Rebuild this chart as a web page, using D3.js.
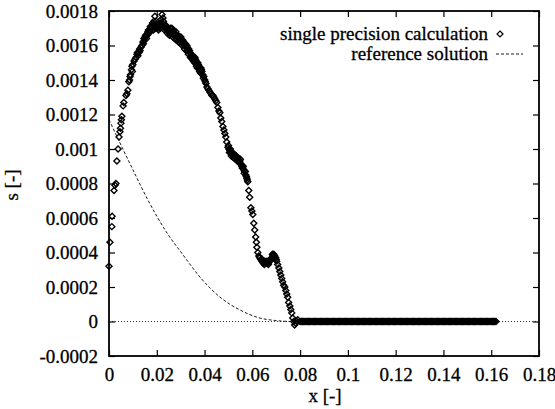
<!DOCTYPE html>
<html>
<head>
<meta charset="utf-8">
<script src="https://cdn.jsdelivr.net/npm/d3@7"></script>
<style>
    body { margin: 0; background: #fff; }
    svg { display: block; }
    text { font-family: "Liberation Serif", "Times New Roman", serif; fill: #000; stroke: #000; stroke-width: 0.3px; }
</style>
</head>
<body>
<div id="chart"></div>
<script>
// x ticks / y ticks
const xTicks = [0, 0.02, 0.04, 0.06, 0.08, 0.1, 0.12, 0.14, 0.16, 0.18];
const xTickLabels = ["0", "0.02", "0.04", "0.06", "0.08", "0.1", "0.12", "0.14", "0.16", "0.18"];
const yTicks = [-0.0002, 0, 0.0002, 0.0004, 0.0006, 0.0008, 0.001, 0.0012, 0.0014, 0.0016, 0.0018];
const yTickLabels = ["-0.0002", "0", "0.0002", "0.0004", "0.0006", "0.0008", "0.001", "0.0012", "0.0014", "0.0016", "0.0018"];

// single precision calculation (hump part)
const calcX = [
    0.0000, 0.0004, 0.0012, 0.0013, 0.0021, 0.0025, 0.0029, 0.0033, 0.0038, 0.0042,
    0.0046, 0.0048, 0.0050, 0.0052, 0.0054, 0.0059, 0.0062, 0.0071, 0.0075, 0.0079,
    0.0086, 0.0088, 0.0094, 0.0096, 0.0100, 0.0109, 0.0113, 0.0117, 0.0121, 0.0126,
    0.0130, 0.0134, 0.0138, 0.0142, 0.0146, 0.0151, 0.0155, 0.0159, 0.0163, 0.0167,
    0.0171, 0.0176, 0.0180, 0.0184, 0.0186, 0.0188, 0.0192, 0.0196, 0.0200, 0.0205,
    0.0209, 0.0213, 0.0217, 0.0222, 0.0226, 0.0230, 0.0234, 0.0238, 0.0243, 0.0247,
    0.0251, 0.0255, 0.0259, 0.0263, 0.0268, 0.0272, 0.0276, 0.0280, 0.0284, 0.0289,
    0.0293, 0.0297, 0.0301, 0.0305, 0.0309, 0.0314, 0.0318, 0.0322, 0.0326, 0.0330,
    0.0334, 0.0339, 0.0343, 0.0347, 0.0351, 0.0356, 0.0360, 0.0364, 0.0368, 0.0372,
    0.0376, 0.0381, 0.0385, 0.0389, 0.0393, 0.0397, 0.0401, 0.0406, 0.0410, 0.0414,
    0.0418, 0.0422, 0.0427, 0.0431, 0.0435, 0.0439, 0.0443, 0.0447, 0.0451, 0.0456,
    0.0460, 0.0464, 0.0468, 0.0472, 0.0477, 0.0481, 0.0485, 0.0489, 0.0493, 0.0498,
    0.0502, 0.0506, 0.0510, 0.0514, 0.0518, 0.0523, 0.0527, 0.0531, 0.0535, 0.0539,
    0.0543, 0.0548, 0.0552, 0.0556, 0.0560, 0.0564, 0.0568, 0.0573, 0.0577, 0.0581,
    0.0585, 0.0589, 0.0594, 0.0598, 0.0602, 0.0606, 0.0610, 0.0614, 0.0617, 0.0619,
    0.0623, 0.0627, 0.0631, 0.0635, 0.0640, 0.0644, 0.0648, 0.0652, 0.0656, 0.0660,
    0.0665, 0.0669, 0.0673, 0.0677, 0.0681, 0.0686, 0.0690, 0.0694, 0.0698, 0.0702,
    0.0706, 0.0711, 0.0715, 0.0719, 0.0723, 0.0727, 0.0731, 0.0736, 0.0740, 0.0744,
    0.0748, 0.0752, 0.0757, 0.0761, 0.0765, 0.0769, 0.0773, 0.0777, 0.0782, 0.0786,
    0.0790
];
const calcS = [
    0.00032, 0.00046, 0.00055, 0.00061, 0.00076, 0.00079, 0.00080, 0.00093, 0.00100, 0.00107,
    0.00110, 0.00112, 0.00115, 0.00117, 0.00119, 0.00125, 0.00127, 0.00131, 0.00132, 0.00134,
    0.00140, 0.00142, 0.00146, 0.00148, 0.00149, 0.00152, 0.00153, 0.00155, 0.00154, 0.00156,
    0.00157, 0.00159, 0.00160, 0.00162, 0.00164, 0.00165, 0.00165, 0.00166, 0.00168, 0.00167,
    0.00169, 0.00170, 0.00171, 0.00172, 0.00169, 0.00174, 0.00177, 0.00172, 0.00171, 0.00170,
    0.00172, 0.00173, 0.00175, 0.00178, 0.00176, 0.00172, 0.00170, 0.00171, 0.00169, 0.00170,
    0.00168, 0.00169, 0.00167, 0.00170, 0.00168, 0.00166, 0.00167, 0.00168, 0.00165, 0.00166,
    0.00164, 0.00163, 0.00165, 0.00162, 0.00163, 0.00161, 0.00160, 0.00159, 0.00160, 0.00157,
    0.00158, 0.00156, 0.00154, 0.00153, 0.00154, 0.00152, 0.00153, 0.00151, 0.00149, 0.00150,
    0.00148, 0.00146, 0.00147, 0.00145, 0.00143, 0.00142, 0.00140, 0.00138, 0.00136, 0.00135,
    0.00134, 0.00133, 0.00132, 0.00131, 0.00131, 0.00130, 0.00129, 0.00128, 0.00127, 0.00124,
    0.00122, 0.00121, 0.00118, 0.00116, 0.00113, 0.00111, 0.00109, 0.00107, 0.00104, 0.00101,
    0.00100, 0.00099, 0.00098, 0.00097, 0.00097, 0.00096, 0.00096, 0.00095, 0.00095, 0.00094,
    0.00093, 0.00093, 0.00091, 0.00090, 0.00089, 0.00088, 0.00087, 0.00085, 0.00083, 0.00081,
    0.00076, 0.00072, 0.00066, 0.00064, 0.00062, 0.00057, 0.00053, 0.00049, 0.00046, 0.00043,
    0.00040, 0.00038, 0.00037, 0.00036, 0.00035, 0.00034, 0.00034, 0.00035, 0.00034, 0.00034,
    0.00035, 0.00034, 0.00035, 0.00036, 0.00037, 0.00038, 0.00039, 0.00038, 0.00037, 0.00035,
    0.00033, 0.00031, 0.00029, 0.00027, 0.00025, 0.00023, 0.00021, 0.00020, 0.00018, 0.00016,
    0.00014, 0.00011, 0.00009, 0.00007, 0.00005, 0.00002, 0.00000, -0.00002, -0.00001, 0.00000,
    0.00001
];

// extra points where the calculation scatters into a dense band
const bandX = [
    0.0083, 0.0090, 0.0098, 0.0105, 0.0119, 0.0128,
    0.0144, 0.0148, 0.0153, 0.0157, 0.0161, 0.0165, 0.0169, 0.0173, 0.0178, 0.0182,
    0.0190, 0.0194, 0.0198, 0.0203, 0.0207, 0.0211, 0.0215, 0.0219, 0.0224, 0.0228,
    0.0232, 0.0236, 0.0240, 0.0245, 0.0249, 0.0253, 0.0257, 0.0261, 0.0266, 0.0270,
    0.0274, 0.0278, 0.0282, 0.0287, 0.0291, 0.0295, 0.0299, 0.0303, 0.0307, 0.0312,
    0.0316, 0.0320, 0.0324, 0.0328, 0.0332, 0.0337, 0.0341, 0.0345, 0.0349, 0.0353,
    0.0358, 0.0362, 0.0366, 0.0370, 0.0374, 0.0379, 0.0383, 0.0387, 0.0395, 0.0403,
    0.0500, 0.0504, 0.0508, 0.0512, 0.0516, 0.0520, 0.0525, 0.0529, 0.0533, 0.0537,
    0.0541, 0.0545, 0.0550, 0.0554, 0.0558, 0.0562, 0.0566, 0.0571, 0.0575, 0.0579,
    0.0642, 0.0650, 0.0658, 0.0667, 0.0675, 0.0684, 0.0692, 0.0700
];
const bandS = [
    0.00139, 0.00143, 0.00145, 0.00151, 0.00156, 0.00158,
    0.00161, 0.00163, 0.00166, 0.00164, 0.00167, 0.00169, 0.00168, 0.00171, 0.00169, 0.00173,
    0.00171, 0.00170, 0.00174, 0.00172, 0.00169, 0.00171, 0.00170, 0.00173, 0.00171, 0.00174,
    0.00169, 0.00172, 0.00170, 0.00167, 0.00168, 0.00166, 0.00170, 0.00168, 0.00165, 0.00169,
    0.00164, 0.00166, 0.00163, 0.00165, 0.00162, 0.00165, 0.00161, 0.00163, 0.00160, 0.00162,
    0.00158, 0.00161, 0.00157, 0.00159, 0.00155, 0.00157, 0.00153, 0.00155, 0.00152, 0.00151,
    0.00150, 0.00152, 0.00148, 0.00147, 0.00149, 0.00145, 0.00144, 0.00146, 0.00141, 0.00139,
    0.00102, 0.00098, 0.00100, 0.00096, 0.00098, 0.00095, 0.00097, 0.00094, 0.00096, 0.00093,
    0.00095, 0.00092, 0.00094, 0.00091, 0.00089, 0.00090, 0.00086, 0.00087, 0.00084, 0.00082,
    0.00036, 0.00033, 0.00035, 0.00033, 0.00036, 0.00039, 0.00037, 0.00036
];

// single precision calculation, flat tail (s = 0)
const tailX = [
    0.0800, 0.0805, 0.0810, 0.0815, 0.0820, 0.0825, 0.0830, 0.0835, 0.0840, 0.0845,
    0.0850, 0.0855, 0.0860, 0.0865, 0.0870, 0.0875, 0.0880, 0.0885, 0.0890, 0.0895,
    0.0900, 0.0905, 0.0910, 0.0915, 0.0920, 0.0925, 0.0930, 0.0935, 0.0940, 0.0945,
    0.0950, 0.0955, 0.0960, 0.0965, 0.0970, 0.0975, 0.0980, 0.0985, 0.0990, 0.0995,
    0.1000, 0.1005, 0.1010, 0.1015, 0.1020, 0.1025, 0.1030, 0.1035, 0.1040, 0.1045,
    0.1050, 0.1055, 0.1060, 0.1065, 0.1070, 0.1075, 0.1080, 0.1085, 0.1090, 0.1095,
    0.1100, 0.1105, 0.1110, 0.1115, 0.1120, 0.1125, 0.1130, 0.1135, 0.1140, 0.1145,
    0.1150, 0.1155, 0.1160, 0.1165, 0.1170, 0.1175, 0.1180, 0.1185, 0.1190, 0.1195,
    0.1200, 0.1205, 0.1210, 0.1215, 0.1220, 0.1225, 0.1230, 0.1235, 0.1240, 0.1245,
    0.1250, 0.1255, 0.1260, 0.1265, 0.1270, 0.1275, 0.1280, 0.1285, 0.1290, 0.1295,
    0.1300, 0.1305, 0.1310, 0.1315, 0.1320, 0.1325, 0.1330, 0.1335, 0.1340, 0.1345,
    0.1350, 0.1355, 0.1360, 0.1365, 0.1370, 0.1375, 0.1380, 0.1385, 0.1390, 0.1395,
    0.1400, 0.1405, 0.1410, 0.1415, 0.1420, 0.1425, 0.1430, 0.1435, 0.1440, 0.1445,
    0.1450, 0.1455, 0.1460, 0.1465, 0.1470, 0.1475, 0.1480, 0.1485, 0.1490, 0.1495,
    0.1500, 0.1505, 0.1510, 0.1515, 0.1520, 0.1525, 0.1530, 0.1535, 0.1540, 0.1545,
    0.1550, 0.1555, 0.1560, 0.1565, 0.1570, 0.1575, 0.1580, 0.1585, 0.1590, 0.1595,
    0.1600, 0.1605, 0.1610, 0.1615, 0.1620
];

// reference solution
const refX = [0, 0.0046, 0.0100, 0.0163, 0.0243, 0.0310, 0.0377, 0.0464, 0.0548, 0.0632, 0.0694, 0.0757];
const refS = [0.00117, 0.001035, 0.00088, 0.000704, 0.000513, 0.000386, 0.000264, 0.000142, 0.000067, 0.00002, 0.000006, 0];

const legendLabels = ["single precision calculation", "reference solution"];

const width = 555, height = 409;
const margin = { top: 11, right: 16, bottom: 53, left: 109 };
const innerW = width - margin.left - margin.right;
const innerH = height - margin.top - margin.bottom;
const fontSize = '19px';

const points = calcX.map((x, i) => ({ x: x, s: calcS[i] }))
    .concat(bandX.map((x, i) => ({ x: x, s: bandS[i] })))
    .concat(tailX.map(x => ({ x: x, s: 0 })));
const refData = refX.map((x, i) => ({ x: x, s: refS[i] }));

const xScale = d3.scaleLinear().domain([0, 0.18]).range([0, innerW]);
const yScale = d3.scaleLinear().domain([-0.0002, 0.0018]).range([innerH, 0]);

const svg = d3.select('#chart').append('svg')
    .attr('width', width)
    .attr('height', height);

const g = svg.append('g')
    .attr('transform', `translate(${margin.left},${margin.top})`);

// zero axis (dotted)
g.append('line')
    .attr('x1', 0).attr('x2', innerW)
    .attr('y1', yScale(0)).attr('y2', yScale(0))
    .attr('stroke', '#000')
    .attr('stroke-width', 0.8)
    .attr('stroke-dasharray', '1,2');

// reference solution
const line = d3.line()
    .x(d => xScale(d.x))
    .y(d => yScale(d.s))
    .curve(d3.curveMonotoneX);

g.append('path')
    .datum(refData)
    .attr('d', line)
    .attr('fill', 'none')
    .attr('stroke', '#000')
    .attr('stroke-width', 0.9)
    .attr('stroke-dasharray', '3,2');

// diamonds
const diamond = 'M0,-3L3,0L0,3L-3,0Z';
g.append('g').selectAll('path')
    .data(points)
    .join('path')
    .attr('d', diamond)
    .attr('transform', d => `translate(${xScale(d.x)},${yScale(d.s)})`)
    .attr('fill', 'none')
    .attr('stroke', '#000')
    .attr('stroke-width', 1.4);

// axes, ticks inward on all four sides
const fmtX = d => xTickLabels[xTicks.indexOf(d)];
const fmtY = d => yTickLabels[yTicks.indexOf(d)];

g.append('g')
    .attr('transform', `translate(0,${innerH})`)
    .call(d3.axisBottom(xScale).tickValues(xTicks).tickFormat(fmtX).tickSize(-6).tickPadding(12));
g.append('g')
    .call(d3.axisTop(xScale).tickValues(xTicks).tickFormat('').tickSize(-6));
g.append('g')
    .call(d3.axisLeft(yScale).tickValues(yTicks).tickFormat(fmtY).tickSize(-6).tickPadding(11));
g.append('g')
    .attr('transform', `translate(${innerW},0)`)
    .call(d3.axisRight(yScale).tickValues(yTicks).tickFormat('').tickSize(-6));

g.selectAll('.domain').remove();
g.selectAll('.tick line').attr('stroke', '#000').attr('stroke-width', 1.2);
g.selectAll('.tick text')
    .style('font-family', '"Liberation Serif", serif')
    .style('font-size', fontSize)
    .attr('fill', '#000');

// frame
g.append('rect')
    .attr('width', innerW)
    .attr('height', innerH)
    .attr('fill', 'none')
    .attr('stroke', '#000')
    .attr('stroke-width', 1.8);

// axis titles
svg.append('text')
    .attr('x', margin.left + innerW / 2 + 1)
    .attr('y', 402)
    .attr('text-anchor', 'middle')
    .style('font-size', fontSize)
    .text('x [-]');

svg.append('text')
    .attr('transform', 'translate(18,185) rotate(-90)')
    .attr('text-anchor', 'middle')
    .style('font-size', fontSize)
    .text('s [-]');

// legend
const legend = svg.append('g');
legend.append('text')
    .attr('x', 488).attr('y', 40)
    .attr('text-anchor', 'end')
    .style('font-size', fontSize)
    .text(legendLabels[0]);
legend.append('path')
    .attr('d', diamond)
    .attr('transform', 'translate(500,34)')
    .attr('fill', 'none')
    .attr('stroke', '#000')
    .attr('stroke-width', 1.2);
legend.append('text')
    .attr('x', 488).attr('y', 60)
    .attr('text-anchor', 'end')
    .style('font-size', fontSize)
    .text(legendLabels[1]);
legend.append('line')
    .attr('x1', 496).attr('x2', 523)
    .attr('y1', 54).attr('y2', 54)
    .attr('stroke', '#000')
    .attr('stroke-width', 0.9)
    .attr('stroke-dasharray', '3,2');
</script>
</body>
</html>
